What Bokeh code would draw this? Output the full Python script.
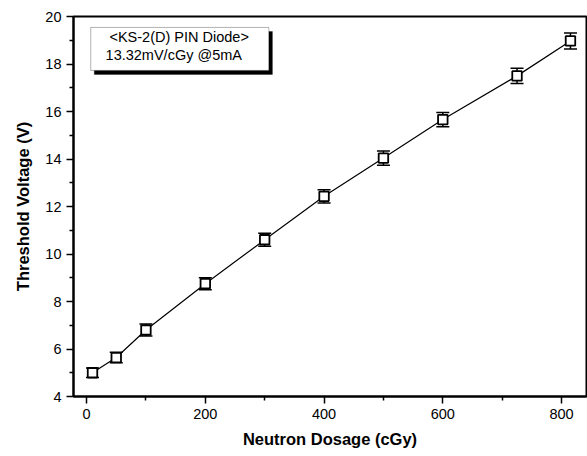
from bokeh.plotting import figure
from bokeh.models import FixedTicker, Whisker, ColumnDataSource, BoxAnnotation, Label, Range1d
from bokeh.embed import file_html
from bokeh.resources import INLINE

dose = [10, 50, 100, 200, 300, 400, 500, 600, 725, 815]
voltage = [5.0, 5.64, 6.8, 8.75, 10.6, 12.43, 14.04, 15.66, 17.5, 18.97]
err = [0.2, 0.22, 0.25, 0.25, 0.27, 0.28, 0.3, 0.3, 0.32, 0.34]
x_ticks = [0, 200, 400, 600, 800]
x_minor = [100, 300, 500, 700]
y_ticks = [4, 6, 8, 10, 12, 14, 16, 18, 20]
y_minor = [5, 7, 9, 11, 13, 15, 17, 19]
title1 = "<KS-2(D) PIN Diode>"
title2 = "13.32mV/cGy @5mA"

FONT = "Liberation Sans"

src = ColumnDataSource(dict(
    x=dose, y=voltage,
    lo=[v - e for v, e in zip(voltage, err)],
    hi=[v + e for v, e in zip(voltage, err)],
))

p = figure(width=587, height=456, output_backend="svg", toolbar_location=None,
           x_range=Range1d(-22, 842), y_range=Range1d(4, 20),
           min_border_left=73, min_border_right=1, min_border_top=16, min_border_bottom=60)
p.xgrid.visible = False
p.ygrid.visible = False
p.outline_line_color = "black"
p.outline_line_width = 2

p.xaxis.ticker = FixedTicker(ticks=x_ticks, minor_ticks=x_minor)
p.yaxis.ticker = FixedTicker(ticks=y_ticks, minor_ticks=y_minor)
for ax in (p.xaxis, p.yaxis):
    ax.axis_line_color = "black"
    ax.axis_line_width = 2
    ax.major_tick_line_color = "black"
    ax.major_tick_line_width = 1.5
    ax.minor_tick_line_color = "black"
    ax.minor_tick_line_width = 1.5
    ax.major_tick_out = 7
    ax.major_tick_in = 0
    ax.minor_tick_out = 4
    ax.minor_tick_in = 0
    ax.major_label_text_font = FONT
    ax.major_label_text_font_size = "14.5px"
    ax.major_label_text_color = "black"
    ax.axis_label_text_font = FONT
    ax.axis_label_text_font_size = "16.5px"
    ax.axis_label_text_font_style = "bold"
    ax.axis_label_text_color = "black"
p.xaxis.axis_label = "Neutron Dosage (cGy)"
p.yaxis.axis_label = "Threshold Voltage (V)"
p.xaxis.major_label_standoff = 5
p.xaxis.axis_label_standoff = 8
p.yaxis.major_label_standoff = 5
p.yaxis.axis_label_standoff = 10

p.line("x", "y", source=src, line_color="black", line_width=1.2)
w = Whisker(source=src, base="x", lower="lo", upper="hi", line_color="black", line_width=1.5)
w.upper_head.size = 13
w.lower_head.size = 13
w.upper_head.line_width = 1.5
w.lower_head.line_width = 1.5
p.add_layout(w)
p.scatter("x", "y", source=src, marker="square", size=9.5, fill_color="white",
          line_color="black", line_width=1.8)

# annotation box with shadow
p.add_layout(BoxAnnotation(left=13, right=313, top=19.37, bottom=17.56,
                           fill_color="black", fill_alpha=1, line_color="black"))
p.add_layout(BoxAnnotation(left=7, right=307, top=19.54, bottom=17.73,
                           fill_color="white", fill_alpha=1, line_color="black", line_width=1))
p.add_layout(Label(x=156, y=19.12, text=title1, text_align="center", text_baseline="middle",
                   text_font=FONT, text_font_size="14.5px", text_color="black"))
p.add_layout(Label(x=32, y=18.36, text=title2, text_align="left", text_baseline="middle",
                   text_font=FONT, text_font_size="14.5px", text_color="black"))

open("out.html", "w").write(file_html(p, INLINE))
